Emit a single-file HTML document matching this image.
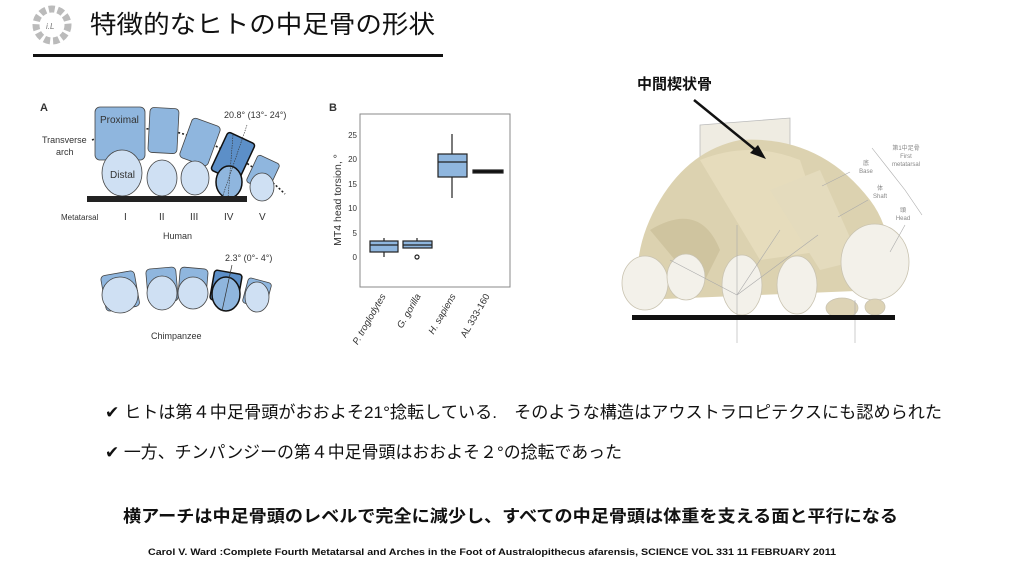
<!DOCTYPE html>
<html><head><meta charset="utf-8"><style>
html,body{margin:0;padding:0;background:#fff;width:1024px;height:576px;overflow:hidden}
svg{display:block}
text{font-family:"Liberation Sans","Noto Sans CJK JP",sans-serif}
</style></head><body>
<svg width="1024" height="576" viewBox="0 0 1024 576">
<!-- logo -->
<g transform="translate(52,25)">
<circle r="16" fill="none" stroke="#bbb" stroke-width="7" stroke-dasharray="6 3"/>
<text x="-6" y="4" font-size="8" fill="#777" font-style="italic">i.L</text>
</g>
<text x="90" y="33" font-size="25" fill="#111" textLength="345" lengthAdjust="spacingAndGlyphs">特徴的なヒトの中足骨の形状</text>
<rect x="33" y="54" width="410" height="3" fill="#111"/>

<!-- Figure A -->
<g font-size="9" fill="#333">
<text x="40" y="111" font-weight="bold" font-size="11">A</text>
<path d="M92 140 Q133 122 180 133 Q240 150 285 194" fill="none" stroke="#222" stroke-width="1.6" stroke-dasharray="2 2"/>
<rect x="95" y="107" width="50" height="53" rx="5" fill="#8fb6de" stroke="#444" stroke-width="0.8"/>
<rect x="149" y="108" width="29" height="45" rx="4" fill="#8fb6de" stroke="#444" stroke-width="0.8" transform="rotate(3 163 130)"/>
<rect x="185" y="121" width="30" height="42" rx="4" fill="#8fb6de" stroke="#444" stroke-width="0.8" transform="rotate(20 200 142)"/>
<rect x="218" y="136" width="30" height="42" rx="3" fill="#5c8fc8" stroke="#111" stroke-width="1.5" transform="rotate(25 233 157)"/>
<rect x="251" y="158" width="24" height="30" rx="3" fill="#8fb6de" stroke="#444" stroke-width="0.8" transform="rotate(25 263 173)"/>
<ellipse cx="122" cy="173" rx="20" ry="23" fill="#cfe0f3" stroke="#444" stroke-width="0.8"/>
<ellipse cx="162" cy="178" rx="15" ry="18" fill="#cfe0f3" stroke="#444" stroke-width="0.8"/>
<ellipse cx="195" cy="178" rx="14" ry="17" fill="#cfe0f3" stroke="#444" stroke-width="0.8"/>
<ellipse cx="229" cy="182" rx="13" ry="16" fill="#8fb6de" stroke="#111" stroke-width="1.5"/>
<ellipse cx="262" cy="187" rx="12" ry="14" fill="#cfe0f3" stroke="#444" stroke-width="0.8"/>
<line x1="233" y1="135" x2="228" y2="198" stroke="#333" stroke-width="0.6" stroke-dasharray="1.5 1"/>
<line x1="247" y1="125" x2="222" y2="198" stroke="#333" stroke-width="0.6" stroke-dasharray="1.5 1"/>
<rect x="87" y="196" width="160" height="6" fill="#222"/>
<text x="100" y="123" font-size="10">Proximal</text>
<text x="42" y="143">Transverse</text>
<text x="56" y="155">arch</text>
<text x="110" y="178" font-size="10">Distal</text>
<text x="224" y="118">20.8° (13°- 24°)</text>
<text x="61" y="220" font-size="8">Metatarsal</text>
<text x="124" y="220" font-size="10">I</text>
<text x="159" y="220" font-size="10">II</text>
<text x="190" y="220" font-size="10">III</text>
<text x="224" y="220" font-size="10">IV</text>
<text x="259" y="220" font-size="10">V</text>
<text x="163" y="239" font-size="9">Human</text>
<!-- chimp -->
<rect x="103" y="273" width="34" height="36" rx="4" fill="#8fb6de" stroke="#444" stroke-width="0.8" transform="rotate(-10 120 290)"/>
<rect x="147" y="268" width="30" height="34" rx="4" fill="#8fb6de" stroke="#444" stroke-width="0.8" transform="rotate(-5 162 285)"/>
<rect x="179" y="268" width="28" height="32" rx="4" fill="#8fb6de" stroke="#444" stroke-width="0.8" transform="rotate(5 193 284)"/>
<rect x="212" y="272" width="28" height="30" rx="3" fill="#5c8fc8" stroke="#111" stroke-width="1.5" transform="rotate(10 226 287)"/>
<rect x="245" y="280" width="24" height="26" rx="3" fill="#8fb6de" stroke="#444" stroke-width="0.8" transform="rotate(15 257 293)"/>
<ellipse cx="120" cy="295" rx="18" ry="18" fill="#cfe0f3" stroke="#444" stroke-width="0.8"/>
<ellipse cx="162" cy="293" rx="15" ry="17" fill="#cfe0f3" stroke="#444" stroke-width="0.8"/>
<ellipse cx="193" cy="293" rx="15" ry="16" fill="#cfe0f3" stroke="#444" stroke-width="0.8"/>
<ellipse cx="226" cy="294" rx="14" ry="17" fill="#8fb6de" stroke="#111" stroke-width="1.5"/>
<ellipse cx="257" cy="297" rx="12" ry="15" fill="#cfe0f3" stroke="#444" stroke-width="0.8"/>
<line x1="232" y1="265" x2="222" y2="311" stroke="#333" stroke-width="0.7"/>
<text x="225" y="261">2.3° (0°- 4°)</text>
<text x="151" y="339" font-size="9">Chimpanzee</text>
</g>

<!-- Figure B -->
<g font-size="8" fill="#333">
<text x="329" y="111" font-weight="bold" font-size="11">B</text>
<rect x="360" y="114" width="150" height="173" fill="#fff" stroke="#888" stroke-width="1"/>
<text x="357" y="138" text-anchor="end">25</text>
<text x="357" y="162" text-anchor="end">20</text>
<text x="357" y="187" text-anchor="end">15</text>
<text x="357" y="211" text-anchor="end">10</text>
<text x="357" y="236" text-anchor="end">5</text>
<text x="357" y="260" text-anchor="end">0</text>
<text transform="translate(341,200) rotate(-90)" text-anchor="middle" font-size="10.5">MT4 head torsion, °</text>
<g stroke="#222" stroke-width="1.2">
<line x1="384" y1="257" x2="384" y2="238"/>
<rect x="370" y="241" width="28" height="11" fill="#8fb6de"/>
<line x1="370" y1="245" x2="398" y2="245"/>
<line x1="417" y1="248" x2="417" y2="238"/>
<rect x="403" y="241" width="29" height="7" fill="#8fb6de"/>
<line x1="403" y1="245" x2="432" y2="245"/>
<circle cx="417" cy="257" r="2" fill="#fff"/>
<line x1="452" y1="134" x2="452" y2="198"/>
<rect x="438" y="154" width="29" height="23" fill="#8fb6de"/>
<line x1="438" y1="162" x2="467" y2="162"/>
<rect x="473" y="170" width="30" height="3" fill="#111"/>
</g>
<text transform="translate(386,296) rotate(-60)" text-anchor="end" font-size="9.5" font-style="italic">P. troglodytes</text>
<text transform="translate(421,296) rotate(-60)" text-anchor="end" font-size="9.5" font-style="italic">G. gorilla</text>
<text transform="translate(456,296) rotate(-60)" text-anchor="end" font-size="9.5" font-style="italic">H. sapiens</text>
<text transform="translate(490,296) rotate(-60)" text-anchor="end" font-size="9.5">AL 333-160</text>
</g>

<!-- Right foot illustration -->
<g>
<path d="M700 125 L790 118 L790 150 L700 180 Z" fill="#efece2" stroke="#bbb" stroke-width="0.8"/>
<path d="M660 200 Q690 150 740 140 Q820 135 870 200 Q900 240 880 290 L640 300 Q630 250 660 200 Z" fill="#dcd2b0"/>
<path d="M700 160 Q750 140 800 160 L830 250 L760 260 Z" fill="#e6dcbc"/>
<path d="M650 230 Q700 200 720 250 L700 290 Z" fill="#cfc49f"/>
<path d="M770 190 L820 170 L860 260 L820 270 Z" fill="#e4dbbd"/>
<g fill="#f3f1ea" stroke="#c9c3b0" stroke-width="0.8">
<ellipse cx="645" cy="283" rx="23" ry="27"/>
<ellipse cx="686" cy="277" rx="19" ry="23"/>
<ellipse cx="742" cy="285" rx="20" ry="30"/>
<ellipse cx="797" cy="285" rx="20" ry="29"/>
<ellipse cx="875" cy="262" rx="34" ry="38"/>
<ellipse cx="842" cy="308" rx="16" ry="10" fill="#ddd3b5"/>
<ellipse cx="875" cy="307" rx="10" ry="8" fill="#ddd3b5"/>
</g>
<g stroke="#aaa" stroke-width="0.6">
<line x1="737" y1="225" x2="737" y2="343"/>
<line x1="855" y1="300" x2="855" y2="343"/>
<line x1="737" y1="295" x2="670" y2="260"/>
<line x1="737" y1="295" x2="780" y2="230"/>
<line x1="737" y1="295" x2="818" y2="235"/>
<line x1="822" y1="186" x2="850" y2="172"/>
<line x1="838" y1="217" x2="868" y2="200"/>
<line x1="890" y1="252" x2="905" y2="225"/>
<path d="M872 148 L905 190 L922 215" fill="none"/>
</g>
<g font-size="6" fill="#888" text-anchor="middle">
<text x="866" y="165">底</text><text x="866" y="173">Base</text>
<text x="880" y="190">体</text><text x="880" y="198">Shaft</text>
<text x="903" y="212">頭</text><text x="903" y="220">Head</text>
<text x="906" y="150">第1中足骨</text><text x="906" y="158">First</text><text x="906" y="166">metatarsal</text>
</g>
<rect x="632" y="315" width="263" height="5" fill="#111"/>
<text x="637" y="89" font-size="15" font-weight="bold" fill="#111">中間楔状骨</text>
<line x1="694" y1="100" x2="758" y2="152" stroke="#111" stroke-width="2.5"/>
<polygon points="766,159 750,153 758,145" fill="#111"/>
</g>

<!-- text -->
<text x="105" y="418" font-size="17" fill="#111" textLength="837" lengthAdjust="spacingAndGlyphs">✔ ヒトは第４中足骨頭がおおよそ21°捻転している.　そのような構造はアウストラロピテクスにも認められた</text>
<text x="105" y="458" font-size="17" fill="#111" textLength="517" lengthAdjust="spacingAndGlyphs">✔ 一方、チンパンジーの第４中足骨頭はおおよそ２°の捻転であった</text>
<text x="123" y="522" font-size="17" font-weight="bold" fill="#111" textLength="775" lengthAdjust="spacingAndGlyphs">横アーチは中足骨頭のレベルで完全に減少し、すべての中足骨頭は体重を支える面と平行になる</text>
<text x="148" y="555" font-size="9.5" font-weight="bold" fill="#111" textLength="688" lengthAdjust="spacingAndGlyphs">Carol V. Ward :Complete Fourth Metatarsal and Arches in the Foot of Australopithecus afarensis, SCIENCE VOL 331 11 FEBRUARY 2011</text>
</svg>
</body></html>
